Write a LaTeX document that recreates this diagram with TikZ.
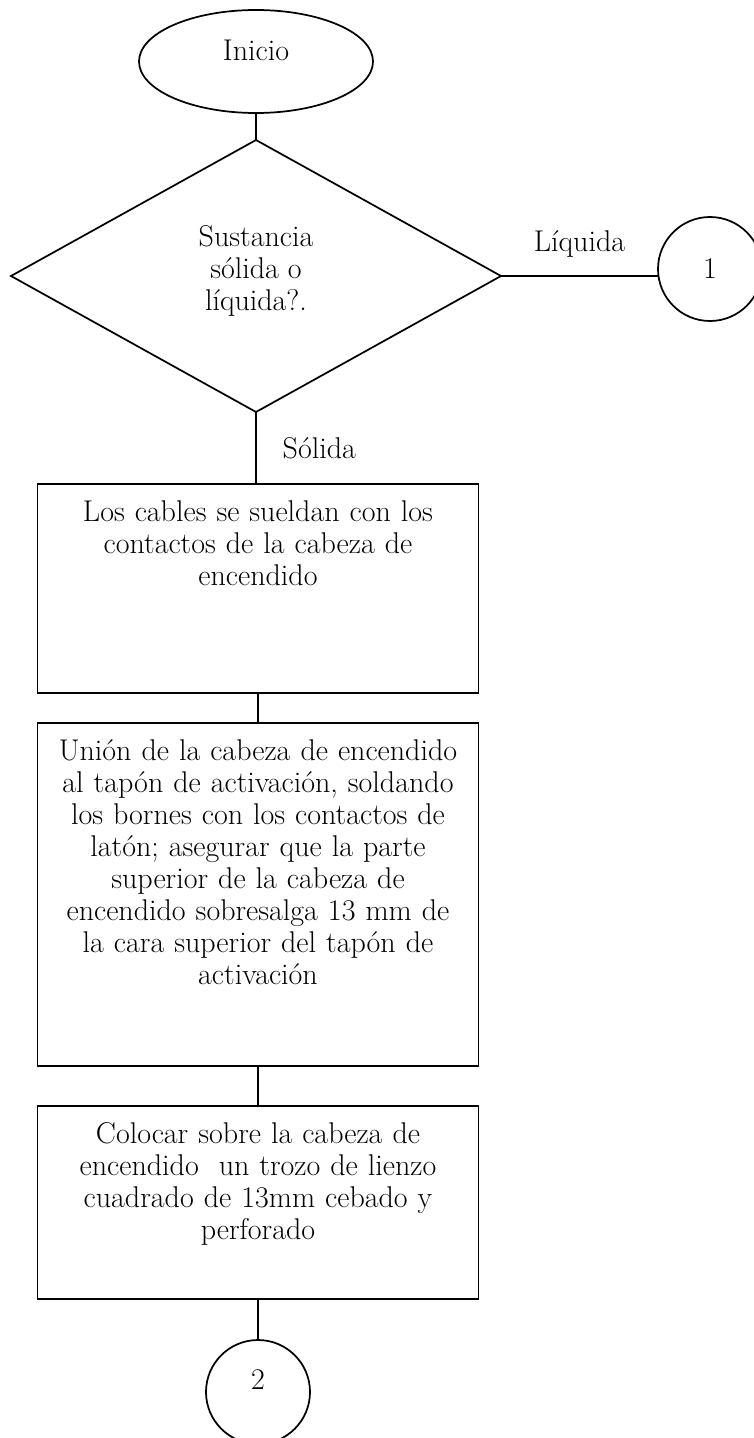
\documentclass[tikz,border=0pt]{standalone}
\usetikzlibrary{shapes.geometric,positioning}

\newcommand{\letra}{\fontsize{22.5}{24}\selectfont}

\begin{document}
\begin{tikzpicture}[
  line width=1.3pt,
  every node/.style={font=\letra, outer sep=0pt},
  inicio/.style={ellipse, draw, minimum width=175.5pt, minimum height=77.25pt, text depth=17pt},
  decision/.style={diamond, draw, minimum width=367.5pt, minimum height=204pt,
    align=center, text depth=12.7pt},
  paso/.style={rectangle, draw, inner xsep=0pt, inner ysep=0pt, text width=330.75pt,
    align=center, text height=27.75pt},
  conector/.style={circle, draw, minimum size=78pt, inner sep=0pt},
  etiqueta/.style={inner sep=4pt}
]
\useasboundingbox (0,0) rectangle (564.75pt,-1078.5pt);
\node[inicio] (ini) at (192pt,-46.125pt) {Inicio};
\node[decision, below=20.25pt of ini] (dec) {Sustancia\\sólida o\\líquida?.};
\node[conector, right=117.75pt of dec, yshift=5.25pt] (c1) {1};
\node[paso, below=54pt of dec, xshift=1.5pt, text depth=129pt] (b1) {Los cables se sueldan con los\\
  contactos de la cabeza de\\encendido};
\node[paso, below=22.5pt of b1, text depth=229.5pt] (b2) {Unión de la cabeza de encendido\\
  al tapón de activación, soldando\\los bornes con los contactos de\\
  latón; asegurar que la parte\\superior de la cabeza de\\
  encendido sobresalga 13 mm de\\la cara superior del tapón de\\activación};
\node[paso, below=30pt of b2, text depth=117pt] (b3) {Colocar sobre la cabeza de\\
  encendido~ un trozo de lienzo\\cuadrado de 13mm cebado y\\perforado};
\node[conector, below=30.75pt of b3, text depth=18pt] (c2) {2};
\draw (ini) -- (dec);
\draw (dec.east) -- node[etiqueta, above=10pt] (liq) {Líquida} (dec.east -| c1.west);
\draw (dec.south) -- node[etiqueta, right=16pt] (sol) {Sólida} (dec.south |- b1.north);
\draw (b1) -- (b2);
\draw (b2) -- (b3);
\draw (b3) -- (c2);
\end{tikzpicture}
\end{document}
